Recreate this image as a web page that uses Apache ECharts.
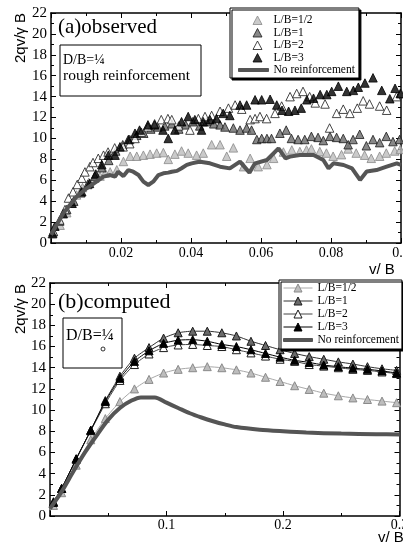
<!DOCTYPE html>
<html><head><meta charset="utf-8">
<script src="https://cdn.jsdelivr.net/npm/echarts@6.0.0/dist/echarts.min.js"></script>
<style>html,body{margin:0;padding:0;background:#fff}#c{width:403px;height:544px}</style>
</head><body><div id="c"></div>
<script>
// ---------- DATA ----------
const seriesNames = ['L/B=1/2', 'L/B=1', 'L/B=2', 'L/B=3', 'No reinforcement'];

// (a) observed : [v/B, 2qv/γB]
const obsHalf = [[0.0003,0.9],[0.0026,1.7],[0.0045,2.9],[0.006,3.8],[0.0073,4.6],[0.009,5.3],[0.0108,5.8],[0.0125,6.2],[0.014,6.4],[0.0155,6.7],[0.0169,6.8],[0.0188,7.0],[0.0207,7.8],[0.0226,8.3],[0.0245,8.3],[0.0264,8.4],[0.0283,8.5],[0.0302,8.6],[0.0321,8.65],[0.0335,8.0],[0.0354,8.5],[0.0373,8.8],[0.0392,8.6],[0.0416,8.4],[0.0435,8.6],[0.0459,9.4],[0.0483,9.4],[0.0502,8.3],[0.0521,9.1],[0.055,7.3],[0.0569,8.1],[0.0592,7.3],[0.0617,7.5],[0.0636,8.1],[0.0664,8.7],[0.0688,8.9],[0.0711,8.75],[0.073,8.9],[0.0744,9.0],[0.0768,8.75],[0.0787,8.6],[0.0806,8.3],[0.083,8.45],[0.0849,9.0],[0.0872,8.6],[0.0896,8.4],[0.0915,8.1],[0.0939,8.3],[0.0958,8.6],[0.0982,8.8],[0.0998,8.95]];
const obsOne = [[0.0006,1.1],[0.0025,2.1],[0.0045,3.2],[0.0065,4.0],[0.0085,4.8],[0.0105,5.6],[0.0125,6.4],[0.0145,7.2],[0.0165,7.9],[0.0185,8.8],[0.0205,9.4],[0.0225,9.9],[0.0245,10.3],[0.0265,10.5],[0.0285,10.9],[0.0305,11.1],[0.0325,11.2],[0.0345,11.4],[0.0365,10.9],[0.0385,11.3],[0.0405,11.6],[0.0425,11.2],[0.0445,11.6],[0.0465,11.4],[0.0483,11.3],[0.0497,11.1],[0.0521,11.0],[0.054,10.8],[0.0559,11.0],[0.0573,10.8],[0.0588,9.9],[0.0602,10.0],[0.0617,10.0],[0.063,10.0],[0.0654,10.5],[0.0672,10.8],[0.0687,10.0],[0.0706,9.9],[0.0725,9.9],[0.0744,10.2],[0.0763,10.1],[0.0778,9.8],[0.0797,10.2],[0.0816,10.1],[0.0835,10.0],[0.0849,9.4],[0.0863,9.9],[0.0882,10.4],[0.0901,9.3],[0.092,9.9],[0.0939,9.6],[0.0958,10.2],[0.0977,9.7],[0.0996,9.9]];
const obsTwo = [[0.0007,1.1],[0.0025,2.2],[0.004,3.2],[0.005,4.3],[0.0063,4.9],[0.0075,5.6],[0.0088,6.2],[0.0097,6.8],[0.0111,7.3],[0.012,7.7],[0.0135,8.1],[0.015,8.4],[0.0163,8.7],[0.0182,9.1],[0.0206,9.2],[0.0225,9.5],[0.024,10.0],[0.0258,10.6],[0.0277,11.1],[0.0296,11.4],[0.0315,11.8],[0.0334,11.9],[0.0345,11.8],[0.0365,11.2],[0.0397,10.8],[0.0421,11.9],[0.044,12.1],[0.0459,12.2],[0.0483,12.6],[0.0507,12.9],[0.0526,13.2],[0.0545,12.8],[0.0569,11.8],[0.0583,11.9],[0.0597,12.1],[0.0616,11.9],[0.064,12.4],[0.0659,13.1],[0.0683,14.0],[0.0702,14.3],[0.072,14.5],[0.0739,14.0],[0.0755,13.4],[0.0783,13.3],[0.0796,11.0],[0.0816,12.4],[0.0835,12.8],[0.0854,12.4],[0.0875,12.9],[0.0892,13.6],[0.091,13.3],[0.0939,13.1],[0.0959,12.7],[0.0987,14.0],[0.1,14.3]];
const obsThree = [[0.0005,0.9],[0.0011,1.6],[0.0035,2.8],[0.006,3.8],[0.0088,4.9],[0.011,5.7],[0.0128,6.6],[0.0145,7.5],[0.0164,8.4],[0.0183,8.4],[0.0197,9.2],[0.0221,9.9],[0.024,10.5],[0.0253,10.8],[0.0277,11.3],[0.0296,11.3],[0.032,10.8],[0.0335,10.0],[0.0354,10.8],[0.0373,11.6],[0.0392,12.1],[0.0411,11.8],[0.043,10.8],[0.0435,11.6],[0.0454,11.8],[0.0473,11.9],[0.0492,12.4],[0.0511,12.2],[0.054,13.2],[0.0559,13.2],[0.0583,13.7],[0.0602,13.7],[0.0626,13.75],[0.0645,13.2],[0.066,12.7],[0.0679,12.6],[0.0697,12.7],[0.0715,12.9],[0.0731,13.7],[0.075,13.85],[0.0769,14.2],[0.0788,14.2],[0.0802,14.5],[0.0821,15.0],[0.0845,14.5],[0.0864,14.6],[0.0878,14.9],[0.0897,15.3],[0.092,15.8],[0.0945,14.6],[0.0968,13.8],[0.0983,14.8],[0.0998,14.3]];
const obsNone = [[0,0.8],[0.0035,2.84],[0.0073,4.43],[0.0102,5.23],[0.013,5.87],[0.015,6.35],[0.0169,6.5],[0.0183,6.35],[0.0192,6.82],[0.0207,6.4],[0.0221,6.98],[0.0235,6.82],[0.025,6.5],[0.0264,5.87],[0.0278,5.55],[0.0292,5.87],[0.0307,6.5],[0.0321,6.67],[0.0335,6.73],[0.0345,6.82],[0.036,6.9],[0.0373,7.15],[0.0388,7.47],[0.0402,7.62],[0.0416,7.72],[0.0426,7.78],[0.0454,7.62],[0.0483,7.3],[0.0511,7.14],[0.054,7.78],[0.0567,6.73],[0.0583,7.62],[0.0617,7.94],[0.065,9.06],[0.067,8.1],[0.0683,8.26],[0.0711,8.42],[0.075,8.42],[0.0778,7.94],[0.0793,7.14],[0.0807,7.62],[0.0836,7.46],[0.086,7.14],[0.0883,6.03],[0.0902,6.83],[0.093,6.98],[0.0959,7.3],[0.0988,7.62],[0.1,7.46]];

// (b) computed
const compX = [0.003,0.01,0.0225,0.035,0.0475,0.06,0.0725,0.085,0.0975,0.11,0.1225,0.135,0.1475,0.16,0.1725,0.185,0.1975,0.21,0.2225,0.235,0.2475,0.26,0.2725,0.285,0.2975];
const compHalf = [1.0,2.2,4.8,7.2,9.2,10.8,12.0,12.9,13.5,13.85,14.0,14.1,14.0,13.8,13.5,13.1,12.7,12.3,11.95,11.6,11.35,11.15,11.0,10.85,10.7];
const compOne = [1.3,2.6,5.4,8.1,10.9,13.2,14.9,15.9,16.8,17.3,17.45,17.45,17.3,17.0,16.5,16.1,15.7,15.35,15.05,14.8,14.55,14.35,14.1,13.9,13.75];
const compTwo = [1.35,2.6,5.35,8.05,10.6,12.8,14.3,15.3,15.9,16.15,16.2,16.1,16.0,15.7,15.4,15.1,14.8,14.6,14.3,14.15,14.0,13.85,13.75,13.6,13.45];
const compThree = [1.3,2.6,5.4,8.1,10.8,13.0,14.6,15.6,16.3,16.6,16.65,16.5,16.2,16.0,15.7,15.35,15.0,14.7,14.5,14.25,14.1,13.95,13.85,13.7,13.5];
const compNoneX = [0,0.01,0.02,0.03,0.04,0.05,0.06,0.07,0.078,0.09,0.1,0.11,0.12,0.13,0.14,0.15,0.16,0.18,0.2,0.22,0.25,0.28,0.3];
const compNone = [0.7,2.3,4.2,6.0,7.6,9.1,10.2,10.9,11.2,11.2,10.7,10.2,9.7,9.3,8.95,8.65,8.4,8.15,8.0,7.88,7.78,7.72,7.7];

// ---------- STYLE ----------
const SERIF = '"Liberation Serif","Times New Roman",serif';
const SANS = '"Liberation Sans",Arial,sans-serif';
const sty = [
  {color:'#bdbdbd', borderColor:'#8a8a8a', borderWidth:1},
  {color:'#6a6a6a', borderColor:'#1a1a1a', borderWidth:1},
  {color:'#ffffff', borderColor:'#1a1a1a', borderWidth:1},
  {color:'#000000', borderColor:'#000000', borderWidth:1}
];
const lineCols = ['#a8a8a8', '#333333', '#444444', '#000000'];
const THICK = '#555555';
const B = ' (b)';

function pairs(xs, ys){ return xs.map((x,i)=>[x, ys[i]]); }
const xFmt = v => (v === 0 ? '' : String(Math.round(v*100)/100));

function ax(extra){
  return Object.assign({
    type:'value',
    axisLine:{show:true, onZero:false, lineStyle:{color:'#000', width:1.5}},
    axisTick:{show:true, inside:true, length:5, lineStyle:{color:'#000', width:1}},
    minorTick:{show:true, splitNumber:2, length:3, lineStyle:{color:'#000', width:1}},
    splitLine:{show:false}, minorSplitLine:{show:false}
  }, extra);
}
const xLab = {show:true, formatter:xFmt, margin:3, color:'#000', fontFamily:SERIF, fontSize:14};
const yLab = {show:true, margin:4, color:'#000', fontFamily:SERIF, fontSize:15};

const obsSets = [obsHalf, obsOne, obsTwo, obsThree];
const compSets = [compHalf, compOne, compTwo, compThree];

const series = [];
obsSets.forEach((d,i)=>{
  series.push({name:seriesNames[i], type:'scatter', xAxisIndex:0, yAxisIndex:0,
    symbol:'triangle', symbolSize:8.5, itemStyle:sty[i], data:d, z:2+i*0.1});
});
series.push({name:seriesNames[4], type:'line', xAxisIndex:0, yAxisIndex:0, data:obsNone,
  symbol:'none', lineStyle:{color:THICK, width:4}, itemStyle:{color:THICK, borderColor:THICK}, z:3});
compSets.forEach((d,i)=>{
  series.push({name:seriesNames[i]+B, type:'line', xAxisIndex:2, yAxisIndex:2,
    data:pairs(compX, d), symbol:'triangle', symbolSize:8, showSymbol:true, showAllSymbol:true,
    smooth:0.2, lineStyle:{color:lineCols[i], width:1}, itemStyle:sty[i], z:2+i*0.1});
});
series.push({name:seriesNames[4]+B, type:'line', xAxisIndex:2, yAxisIndex:2,
  data:pairs(compNoneX, compNone), symbol:'none', smooth:0.3,
  lineStyle:{color:THICK, width:4}, itemStyle:{color:THICK, borderColor:THICK}, z:3});

const TRI = 'path://M0,0M30,9M19,0.5L23.5,9L14.5,9Z';
const BAR_A = 'path://M0,0M30,9M0,3L30,3L30,6L0,6Z';
const BAR_B = 'path://M0,0M29,10M0,3.5L29,3.5L29,6.5L0,6.5Z';

const legendCommon = {
  orient:'vertical', selectedMode:false, backgroundColor:'#fff',
  borderColor:'#000', borderWidth:1, shadowColor:'#000', shadowOffsetX:2, shadowOffsetY:2, shadowBlur:0,
  itemGap:0.5, textStyle:{fontFamily:SERIF, fontSize:11.5, color:'#000', lineHeight:12},
  itemStyle:{borderWidth:1}, lineStyle:{width:1}, formatter: n => n.replace(B, '')
};

const option = {
  animation:false,
  backgroundColor:'#fff',
  grid:[
    {left:51, top:13, width:350, height:230, outerBoundsMode:'none'},
    {left:50, top:283, width:349.5, height:233, outerBoundsMode:'none'}
  ],
  xAxis:[
    ax({gridIndex:0, min:0, max:0.1, interval:0.02, position:'bottom', axisLabel:xLab}),
    ax({gridIndex:0, min:0, max:0.1, interval:0.02, position:'top', axisLabel:{show:false}}),
    ax({gridIndex:1, min:0, max:0.3, interval:0.1, position:'bottom', axisLabel:Object.assign({}, xLab, {margin:2})}),
    ax({gridIndex:1, min:0, max:0.3, interval:0.1, position:'top', axisLabel:{show:false}})
  ],
  yAxis:[
    ax({gridIndex:0, min:0, max:22, interval:2, position:'left', axisLabel:yLab}),
    ax({gridIndex:0, min:0, max:22, interval:2, position:'right', axisLabel:{show:false}}),
    ax({gridIndex:1, min:0, max:22, interval:2, position:'left', axisLabel:yLab}),
    ax({gridIndex:1, min:0, max:22, interval:2, position:'right', axisLabel:{show:false}})
  ],
  legend:[
    Object.assign({}, legendCommon, {
      left:230, top:8, itemWidth:30, itemHeight:9, padding:[6,4,2,8],
      data:[
        {name:seriesNames[0], icon:TRI},{name:seriesNames[1], icon:TRI},
        {name:seriesNames[2], icon:TRI},{name:seriesNames[3], icon:TRI},
        {name:seriesNames[4], icon:BAR_A}
      ]
    }),
    Object.assign({}, legendCommon, {
      left:279, top:280, itemWidth:29, itemHeight:10, itemGap:1, padding:[2,3,3,4],
      data:[
        {name:seriesNames[0]+B},{name:seriesNames[1]+B},{name:seriesNames[2]+B},{name:seriesNames[3]+B},
        {name:seriesNames[4]+B, icon:BAR_B}
      ]
    })
  ],
  graphic:[
    {type:'text', left:58, top:17, style:{text:'(a)observed', font:'21px '+SERIF, fill:'#000'}},
    {type:'rect', shape:{x:60, y:45, width:141, height:51}, style:{fill:'#fff', stroke:'#000', lineWidth:1}, z:5},
    {type:'text', x:63, y:60, style:{text:'D/B=¼', font:'14px '+SERIF, fill:'#000', textVerticalAlign:'middle'}, z:6},
    {type:'text', x:63, y:76, style:{text:'rough reinforcement', font:'15.5px '+SERIF, fill:'#000', textVerticalAlign:'middle'}, z:6},
    {type:'text', x:21, y:38, rotation:Math.PI/2, style:{text:'2qv/γ B', font:'15px '+SANS, fill:'#000', textAlign:'center', textVerticalAlign:'middle'}},
    {type:'text', x:369, y:270, style:{text:'v/ B', font:'15px '+SANS, fill:'#000', textVerticalAlign:'middle'}},

    {type:'text', left:58, top:291, style:{text:'(b)computed', font:'22px '+SERIF, fill:'#000'}},
    {type:'rect', shape:{x:63, y:318, width:59, height:50}, style:{fill:'#fff', stroke:'#000', lineWidth:1}, z:5},
    {type:'text', x:66, y:336, style:{text:'D/B=¼', font:'16px '+SERIF, fill:'#000', textVerticalAlign:'middle'}, z:6},
    {type:'circle', shape:{cx:103, cy:349, r:2}, style:{fill:'none', stroke:'#000', lineWidth:0.8}, z:6},
    {type:'text', x:21, y:309, rotation:Math.PI/2, style:{text:'2qv/γ B', font:'15px '+SANS, fill:'#000', textAlign:'center', textVerticalAlign:'middle'}},
    {type:'text', x:378, y:538, style:{text:'v/ B', font:'15px '+SANS, fill:'#000', textVerticalAlign:'middle'}}
  ],
  series: series
};

const chart = echarts.init(document.getElementById('c'), null, {renderer:'canvas'});
chart.setOption(option);
</script></body></html>
